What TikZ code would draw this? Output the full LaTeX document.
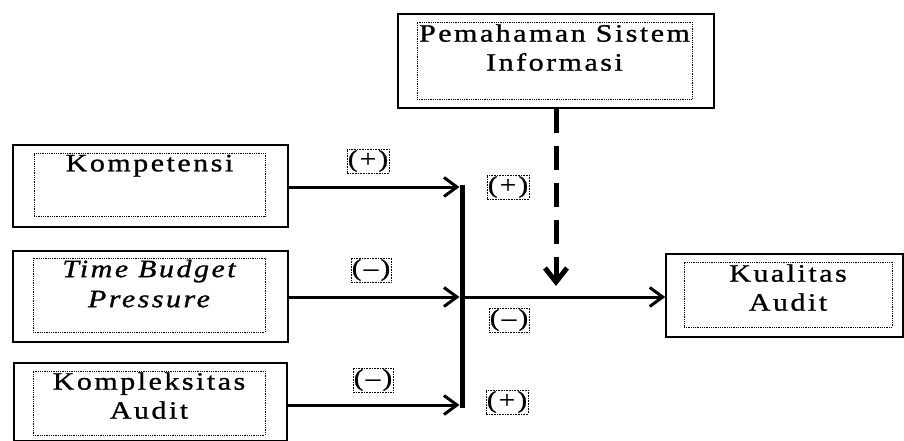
\documentclass[tikz,border=0pt]{standalone}
\usepackage{fontspec}
\setmainfont[LetterSpace=10, FakeStretch=1.2, FakeBold=1]{Liberation Serif}
\usetikzlibrary{arrows.meta}
\usetikzlibrary{positioning}

\tikzset{
  outbox/.style={draw, line width=1.5pt, inner sep=0pt},
  dotbox/.style={draw, densely dotted, line width=0.8pt, inner sep=0pt},
  varname/.style={inner sep=0pt, align=center, font=\fontsize{25}{29}\selectfont},
  sign/.style={draw, densely dotted, line width=0.6pt, inner sep=1pt, font=\fontsize{24}{24}\selectfont},
  link/.style={line width=3pt, -{Straight Barb[length=13pt,width=19pt]}},
}

\begin{document}
\begin{tikzpicture}[x=1pt, y=-1pt]
    \useasboundingbox (0,0) rectangle (904,441);

    % independent variables
    %% Kompetensi
    \node[outbox, minimum width=275pt, minimum height=82pt] (komp) at (150.5,186) {};
    \node[dotbox, minimum width=231pt, minimum height=63pt] (kompIn) at (149.5,184.5) {};
    \node[varname, anchor=north] (kompT) at ([yshift=-2pt]kompIn.north) {Kompetensi};
    %% Time Budget Pressure
    \node[outbox, minimum width=275pt, minimum height=91pt] (tbp) at (150.5,296.5) {};
    \node[dotbox, minimum width=232pt, minimum height=74pt] (tbpIn) at (149,295) {};
    \node[varname, anchor=north, font=\fontsize{25}{30}\selectfont\itshape] (tbpT) at ([yshift=-2pt]tbpIn.north) {Time Budget\\Pressure};
    %% Kompleksitas Audit
    \node[outbox, minimum width=273pt, minimum height=78pt] (kpx) at (150.5,402) {};
    \node[dotbox, minimum width=232pt, minimum height=64pt] (kpxIn) at (149,403) {};
    \node[varname, anchor=north] (kpxT) at ([yshift=-1.5pt]kpxIn.north) {Kompleksitas\\Audit};

    % moderating variable
    \node[outbox, minimum width=316pt, minimum height=94pt] (pem) at (556,61) {};
    \node[dotbox, minimum width=275pt, minimum height=77pt] (pemIn) at (554.5,60.5) {};
    \node[varname, anchor=north] (pemT) at ([yshift=-2.5pt]pemIn.north) {Pemahaman Sistem\\Informasi};

    % dependent variable
    \node[outbox, minimum width=237pt, minimum height=83pt] (kual) at (784.5,295.5) {};
    \node[dotbox, minimum width=208pt, minimum height=65pt] (kualIn) at (788,294.5) {};
    \node[varname, anchor=north] (kualT) at ([yshift=-2.5pt]kualIn.north) {Kualitas\\Audit};

    % joining bar
    \coordinate (j1) at (462,187);
    \coordinate (j2) at (462,297);
    \coordinate (j3) at (462,405);
    \draw[line width=5pt, line cap=rect] (j1) -- (j3);

    % arrows
    \draw[link, shorten >=2.5pt] (komp.east |- j1) -- (j1);
    \draw[link, shorten >=2.5pt] (tbp.east |- j2) -- (j2);
    \draw[link, shorten >=2.5pt] (kpx.east |- j3) -- (j3);
    \draw[link] (j2) -- (j2 -| kual.west);
    \draw[line width=5pt, dash pattern=on 24pt off 13pt, shorten >=11pt,
          -{Straight Barb[length=14pt,width=22pt]}] (pem.south) -- (pem.south |- j2);

    % signs
    \node[sign] (s1) at (368,161) {(+)};
    \node[sign] (s2) at (508,187) {(+)};
    \node[sign] (s3) at (371,270) {(--)};
    \node[sign] (s4) at (509,320) {(--)};
    \node[sign] (s5) at (373,380) {(--)};
    \node[sign] (s6) at (507,402) {(+)};
  \end{tikzpicture}
\end{document}
